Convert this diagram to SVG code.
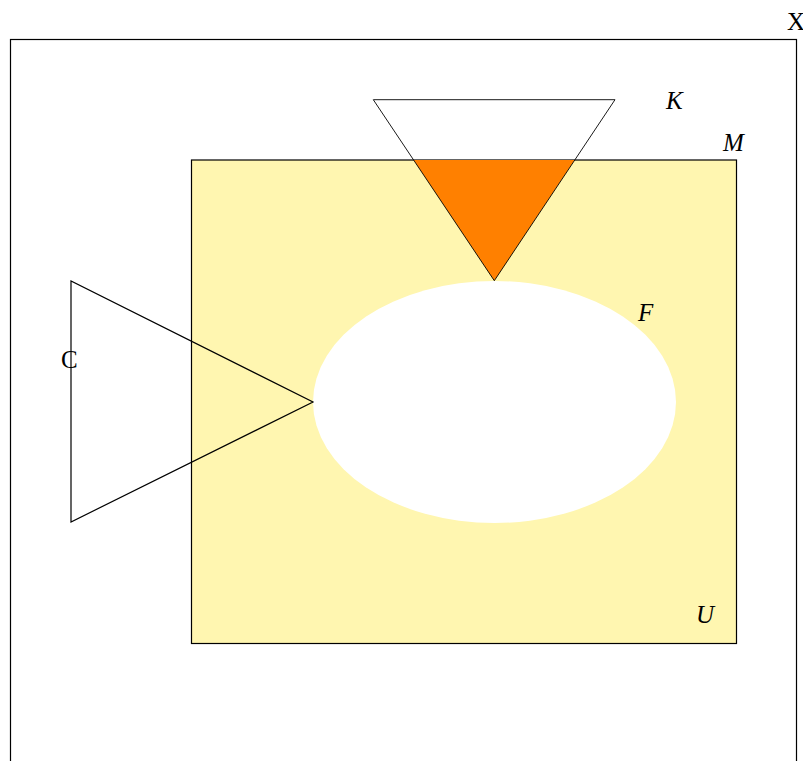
<svg xmlns="http://www.w3.org/2000/svg" width="803" height="761" viewBox="0 0 803 761">
<style>
.ol{fill:none;stroke:#000;stroke-width:1.2}
.lbl{font-family:"Liberation Serif",serif;font-size:25px;font-style:italic;fill:#000}
.up{font-family:"Liberation Serif",serif;font-size:25px;fill:#000}
</style>
<rect width="803" height="761" fill="#fff"/>
<g id="X">
<rect x="10.5" y="39.5" width="786" height="740" class="ol"/>
<text x="787" y="30" class="up">X</text>
</g>
<g id="U">
<rect x="191.5" y="160" width="545" height="483.5" fill="#FFF6B0" stroke="#000" stroke-width="1.2"/>
<text x="696" y="623" class="lbl">U</text>
</g>
<g id="M">
<text x="723" y="151" class="lbl">M</text>
</g>
<g id="F">
<ellipse cx="494.5" cy="402" rx="181.5" ry="121" fill="#fff"/>
<text x="638" y="321" class="lbl">F</text>
</g>
<g id="K">
<polygon points="413.6,160 574.7,160 494.3,280.7" fill="#FF8000"/>
<polygon points="373.3,99.7 615,99.7 494.3,280.7" fill="none" stroke="#000" stroke-width="0.9"/>
<text x="666" y="109" class="lbl">K</text>
</g>
<g id="C">
<polygon points="71,281 71,522 313,402" class="ol"/>
<text x="61" y="368" class="up">C</text>
</g>
<g id="connectors"></g>
</svg>
